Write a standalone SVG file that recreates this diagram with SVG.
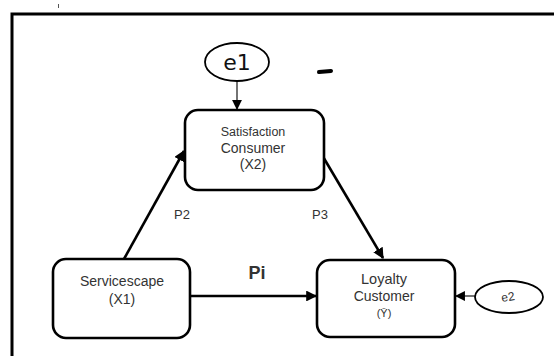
<svg xmlns="http://www.w3.org/2000/svg" width="554" height="356" viewBox="0 0 554 356">
<defs>
<style>
.box{fill:#fff;stroke:#000;stroke-width:2.6}
.ell{fill:#fff;stroke:#000;stroke-width:1.8}
.t{font-family:"Liberation Sans",Arial,sans-serif;fill:#333;text-anchor:middle}
.thick{stroke:#000;stroke-width:2.6;fill:none}
.thin{stroke:#000;stroke-width:1.1;fill:none}
</style>
<marker id="ah" viewBox="0 0 10 10" refX="9" refY="5" markerWidth="4.2" markerHeight="4.2" orient="auto" markerUnits="strokeWidth"><path d="M0,0L10,5L0,10z" fill="#000"/></marker>
<marker id="ahs" viewBox="0 0 10 10" refX="9" refY="5" markerWidth="9" markerHeight="9" orient="auto" markerUnits="strokeWidth"><path d="M0,0L10,5L0,10z" fill="#000"/></marker>
</defs>
<rect width="554" height="356" fill="#fff"/>
<rect x="12" y="14" width="560" height="370" fill="none" stroke="#000" stroke-width="3"/>
<line x1="58.5" y1="4" x2="58.5" y2="8" stroke="#555" stroke-width="1"/>
<line x1="319" y1="72" x2="331" y2="71" stroke="#000" stroke-width="4" stroke-linecap="round"/>
<g id="connectors">
<line class="thin" x1="237" y1="81" x2="237" y2="109" marker-end="url(#ahs)"/>
<line class="thick" x1="124" y1="259" x2="184" y2="151" marker-end="url(#ah)"/>
<line class="thick" x1="322" y1="155" x2="383" y2="258" marker-end="url(#ah)"/>
<line class="thick" x1="190" y1="296" x2="316" y2="296" marker-end="url(#ah)"/>
<line class="thin" x1="475" y1="296" x2="456" y2="296" marker-end="url(#ahs)"/>
<text class="t" x="182" y="219" font-size="13">P2</text>
<text class="t" x="320" y="219" font-size="13">P3</text>
<text class="t" x="257" y="279" font-size="18" font-weight="bold" fill="#222">Pi</text>
</g>
<g id="e1">
<ellipse class="ell" cx="237" cy="62" rx="32" ry="19"/>
<text x="237" y="70" font-family="'DejaVu Sans',sans-serif" font-size="22" text-anchor="middle" fill="#111">e1</text>
</g>
<g id="satisfaction">
<rect class="box" x="185" y="110" width="139" height="80" rx="13"/>
<text class="t" x="253" y="136" font-size="12.5">Satisfaction</text>
<text class="t" x="253" y="153" font-size="14">Consumer</text>
<text class="t" x="253" y="169" font-size="14">(X2)</text>
</g>
<g id="servicescape">
<rect class="box" x="53" y="259" width="137" height="79" rx="13"/>
<text class="t" x="122" y="286" font-size="14">Servicescape</text>
<text class="t" x="122" y="304" font-size="14">(X1)</text>
</g>
<g id="loyalty">
<rect class="box" x="317" y="260" width="138" height="77" rx="13"/>
<text class="t" x="384" y="284" font-size="14.5">Loyalty</text>
<text class="t" x="384" y="301" font-size="14">Customer</text>
<text class="t" x="384" y="317" font-size="11">(Ȳ)</text>
</g>
<g id="e2">
<ellipse class="ell" cx="509" cy="297" rx="34" ry="16"/>
<text class="t" x="508" y="301" font-size="12" transform="rotate(-10 508 297)">e2</text>
</g>
</svg>
